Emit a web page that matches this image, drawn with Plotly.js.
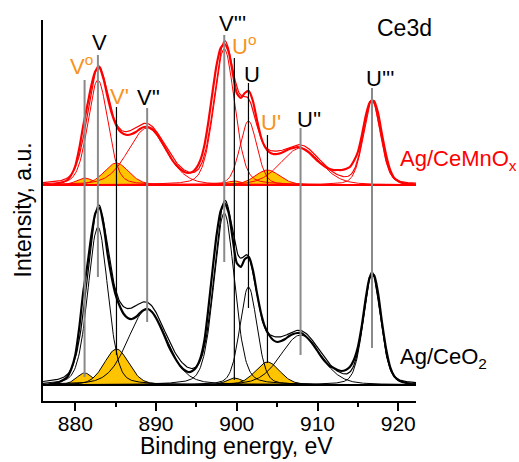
<!DOCTYPE html>
<html><head><meta charset="utf-8">
<script src="https://cdn.plot.ly/plotly-3.0.1.min.js"></script>
<style>html,body{margin:0;padding:0;background:#fff}#chart{width:519px;height:462px}</style>
</head><body><div id="chart"></div>
<script>
// ---- data ----
const energy = [876.0,876.5,877.0,877.5,878.0,878.5,879.0,879.5,880.0,880.5,881.0,881.5,882.0,882.5,883.0,883.5,884.0,884.5,885.0,885.5,886.0,886.5,887.0,887.5,888.0,888.5,889.0,889.5,890.0,890.5,891.0,891.5,892.0,892.5,893.0,893.5,894.0,894.5,895.0,895.5,896.0,896.5,897.0,897.5,898.0,898.5,899.0,899.5,900.0,900.5,901.0,901.5,902.0,902.5,903.0,903.5,904.0,904.5,905.0,905.5,906.0,906.5,907.0,907.5,908.0,908.5,909.0,909.5,910.0,910.5,911.0,911.5,912.0,912.5,913.0,913.5,914.0,914.5,915.0,915.5,916.0,916.5,917.0,917.5,918.0,918.5,919.0,919.5,920.0,920.5,921.0,921.5,922.0];
// Ag/CeO2 measured intensity (a.u., above its baseline)
const ceo2Counts = [1,0,1,2,3,5,8,16,30,58,94,120,150,172,177,160,131,108,90,79,71,67,66,68,72,75,76,73,67,59,50,40,32,25,19,15,13,14,18,27,45,78,115,150,174,182,172,146,122,118,126,128,115,92,72,58,50,45,43,44,46,49,51,52,52,49,45,40,34,28,23,19,17,15,14,15,18,25,38,60,88,108,110,92,62,36,18,9,5,3,2,1,0];
// Ag/CeMnOx measured intensity (a.u., above its baseline)
const cemnoxCounts = [0,1,0,1,2,3,5,10,19,37,60,80,100,114,117,106,88,72,61,54,51,50,51,53,56,58,58,56,52,46,39,32,25,20,16,13,12,13,17,25,40,64,93,120,137,141,133,112,92,87,92,94,84,65,48,38,33,31,31,32,34,36,37,38,37,35,32,28,24,21,18,16,15,15,15,16,18,24,33,50,70,83,84,72,50,30,15,7,4,2,1,1,0];

// fitted components (Ce3d): labels, centres (eV), FWHM (eV), heights
const peakLabels   = ['V<sup>o</sup>','V',"V'","V''","V'''",'U<sup>o</sup>','U',"U'","U''","U'''"];
const peakCenters  = [881.15, 882.8, 885.1, 888.9, 898.45, 899.7, 901.45, 903.8, 907.9, 916.75];
const peakFwhm     = [2.4, 2.9, 3.6, 5.6, 3.0, 2.4, 2.5, 3.6, 5.8, 2.5];
const ceo2Heights  = [12, 158, 36, 76, 172, 7, 98, 23, 50, 111];
const cemnoxHeights= [7, 105, 22, 57, 136, 4, 64, 15, 37, 84];
const ce3Component = [true, false, true, false, false, true, false, true, false, false];

const sampleNames = ['Ag/CeMnO<sub>x</sub>', 'Ag/CeO<sub>2</sub>'];
const xTickVals = [880, 890, 900, 910, 920];
const xTickText = ['880', '890', '900', '910', '920'];

// ---- construction ----
const ceo2Offset = 16, cemnoxOffset = 216;
const ETA = 0.25;
const grid = [];
for (let e = 876.0; e <= 922.2001; e += 0.1) grid.push(+e.toFixed(2));
function pv(x, c, h, w) {
  const d = (x - c) / w;
  return h * ((1 - ETA) * Math.exp(-4 * Math.LN2 * d * d) + ETA / (1 + 4 * d * d));
}
const FILL = '#FFC400';
const traces = [];
function addSpectrum(heights, counts, offset, color) {
  const env = grid.map(() => offset);
  heights.forEach((h, i) => {
    const ys = grid.map(x => pv(x, peakCenters[i], h, peakFwhm[i]));
    ys.forEach((v, k) => env[k] += v);
    if (ce3Component[i]) {
      traces.push({x: grid.concat(grid.slice().reverse()),
        y: ys.map(v => v + offset).concat(grid.map(() => offset)),
        type: 'scatter', mode: 'lines', fill: 'toself', fillcolor: FILL,
        line: {color: color, width: 1}, hoverinfo: 'skip'});
    }
  });
  heights.forEach((h, i) => {
    if (!ce3Component[i]) {
      traces.push({x: grid, y: grid.map(x => pv(x, peakCenters[i], h, peakFwhm[i]) + offset),
        type: 'scatter', mode: 'lines', line: {color: color, width: 1}, hoverinfo: 'skip'});
    }
  });
  traces.push({x: [876, 922.2], y: [offset, offset], type: 'scatter', mode: 'lines',
    line: {color: color, width: 2.2}, hoverinfo: 'skip'});
  traces.push({x: grid, y: env, type: 'scatter', mode: 'lines', line: {color: color, width: 1.2}});
  traces.push({x: energy, y: counts.map(v => v + offset), type: 'scatter', mode: 'lines',
    line: {color: color, width: 2.2, shape: 'spline', smoothing: 0.6}});
}
addSpectrum(ceo2Heights, ceo2Counts, ceo2Offset, '#000000');
addSpectrum(cemnoxHeights, cemnoxCounts, cemnoxOffset, '#FF0000');

// pixel helpers (plot area: x 43..416, y 20..401)
const px2x = p => 876 + (p - 43) * 46.2 / 373;
const px2y = p => 401 - p;

// vertical peak-position lines [top px, bottom px, colour, width]
const lineSpec = [[80,377,'#8a8a8a',2],[55,277,'#8a8a8a',2],[107,355,'#000',1.2],[108,322,'#8a8a8a',2],
  [35,262,'#8a8a8a',2],[58,380,'#000',1.2],[83,308,'#000',1.2],[135,363,'#000',1.2],[128,355,'#8a8a8a',2],[88,348,'#8a8a8a',2]];
const shapes = lineSpec.map((s, i) => ({type: 'line', xref: 'x', yref: 'y',
  x0: peakCenters[i], x1: peakCenters[i], y0: px2y(s[1]), y1: px2y(s[0]),
  line: {color: s[2], width: s[3]}}));

const ORANGE = '#F7931E';
const labelPos = [[81,65,ORANGE],[99,42.5,'#000'],[119,96,ORANGE],[148,97.5,'#000'],[232,23.5,'#000'],
  [244,45,ORANGE],[252,74,'#000'],[271,122,ORANGE],[309,119,'#000'],[380,78,'#000']];
const annotations = labelPos.map((p, i) => ({x: px2x(p[0]), y: px2y(p[1]), xref: 'x', yref: 'y',
  text: peakLabels[i], showarrow: false, font: {size: 22, color: p[2]}, xanchor: 'center', yanchor: 'middle'}));
annotations.push({x: px2x(404), y: px2y(28), xref: 'x', yref: 'y', text: 'Ce3d', showarrow: false,
  font: {size: 23, color: '#000'}, xanchor: 'center', yanchor: 'middle'});
annotations.push({x: px2x(398), y: px2y(160), xref: 'x', yref: 'y', text: sampleNames[0], showarrow: false,
  xanchor: 'left', font: {size: 22, color: '#FF0000'}});
annotations.push({x: px2x(398), y: px2y(358), xref: 'x', yref: 'y', text: sampleNames[1], showarrow: false,
  xanchor: 'left', font: {size: 22, color: '#000'}});
annotations.push({x: (236 - 43) / 373, y: (401 - 446) / 381, xref: 'paper', yref: 'paper',
  text: 'Binding energy, eV', showarrow: false, font: {size: 23, color: '#000'}, xanchor: 'center', yanchor: 'middle'});
annotations.push({x: (22 - 43) / 373, y: 0.5, xref: 'paper', yref: 'paper', textangle: -90,
  text: 'Intensity, a.u.', showarrow: false, font: {size: 23, color: '#000'}, xanchor: 'center', yanchor: 'middle'});

const layout = {
  width: 519, height: 462, margin: {l: 43, r: 103, t: 20, b: 61, pad: 0},
  paper_bgcolor: '#fff', plot_bgcolor: '#fff', showlegend: false,
  font: {family: '"Liberation Sans", Arial, sans-serif', color: '#000'},
  xaxis: {range: [876, 922.2], showline: true, linecolor: '#000', linewidth: 2, showgrid: false, zeroline: false,
    ticks: 'outside', ticklen: 8, tickwidth: 2, tickcolor: '#000', tickvals: xTickVals, ticktext: xTickText,
    ticklabelstandoff: -5,
    tickfont: {size: 21}, minor: {tickvals: [885, 895, 905, 915], ticks: 'outside', ticklen: 4, tickwidth: 2, tickcolor: '#000'}},
  yaxis: {range: [0, 381], showline: true, linecolor: '#000', linewidth: 2, showgrid: false, zeroline: false,
    showticklabels: false, ticks: ''},
  shapes: shapes, annotations: annotations
};
Plotly.newPlot('chart', traces, layout, {displayModeBar: false, staticPlot: true});
</script></body></html>
